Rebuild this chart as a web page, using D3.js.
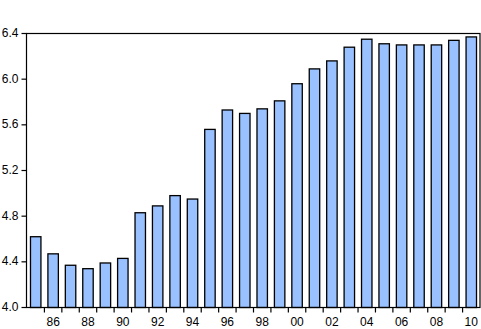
<!DOCTYPE html>
<html>
<head>
<meta charset="utf-8">
<script src="https://cdn.jsdelivr.net/npm/d3@7"></script>
<style>
  body { margin: 0; background: #fff; }
  text { font-family: "Liberation Sans", Arial, sans-serif; font-size: 12px; fill: #000; }
</style>
</head>
<body>
<div id="chart"></div>
<script>
// data
const years = d3.range(1985, 2011);
const values = [4.62, 4.47, 4.37, 4.34, 4.39, 4.43, 4.83, 4.89, 4.98, 4.95,
                5.56, 5.73, 5.70, 5.74, 5.81, 5.96, 6.09, 6.16, 6.28, 6.35,
                6.31, 6.30, 6.30, 6.30, 6.34, 6.37];
const yTicks = [4.0, 4.4, 4.8, 5.2, 5.6, 6.0, 6.4];
const xLabelYears = [1986, 1988, 1990, 1992, 1994, 1996, 1998, 2000, 2002, 2004, 2006, 2008, 2010];

const W = 481, H = 329;
const margin = {top: 33.5, right: 1, bottom: 21.5, left: 26.5};
const width = W - margin.left - margin.right,
    height = H - margin.top - margin.bottom;

let svg = d3.select("#chart")
    .append("svg")
    .attr("width", W)
    .attr("height", H)
    .append("g")
    .attr("transform", "translate(" + margin.left + "," + margin.top + ")");

const x = d3.scaleBand()
    .domain(years)
    .range([0.5, width])
    .paddingInner(0.4)
    .paddingOuter(0.2);

const y = d3.scaleLinear()
    .domain([4.0, 6.4])
    .range([height, 0]);

// bars
svg.selectAll("rect.bar")
    .data(values)
    .enter()
    .append("rect")
    .attr("class", "bar")
    .attr("x", (d, i) => x(years[i]))
    .attr("width", x.bandwidth())
    .attr("y", d => y(d))
    .attr("height", d => y(4.0) - y(d))
    .style("fill", "#99c0ff")
    .style("stroke", "#000")
    .style("stroke-width", 1.3);

// frame
svg.append("rect")
    .attr("x", 0).attr("y", 0)
    .attr("width", width).attr("height", height)
    .style("fill", "none")
    .style("stroke", "#000")
    .style("stroke-width", 1.2);

// y axis
svg.selectAll("line.ytick")
    .data(yTicks)
    .enter().append("line")
    .attr("x1", -5).attr("x2", 0)
    .attr("y1", d => y(d)).attr("y2", d => y(d))
    .style("stroke", "#000").style("stroke-width", 1.2);

svg.selectAll("text.ylab")
    .data(yTicks)
    .enter().append("text")
    .attr("x", -8)
    .attr("y", d => y(d))
    .attr("dy", "0.3em")
    .attr("text-anchor", "end")
    .text(d => d3.format(".1f")(d));

// x ticks sit between bars
const step = x.step();
svg.selectAll("line.xtick")
    .data(years.slice(1))
    .enter().append("line")
    .attr("x1", d => x(d) - step * x.paddingInner() / 2)
    .attr("x2", d => x(d) - step * x.paddingInner() / 2)
    .attr("y1", height).attr("y2", height + 5)
    .style("stroke", "#000").style("stroke-width", 1.2);

svg.selectAll("text.xlab")
    .data(xLabelYears)
    .enter().append("text")
    .attr("x", d => x(d) + x.bandwidth() / 2)
    .attr("y", height + 18.5)
    .attr("text-anchor", "middle")
    .text(d => String(d).slice(2));
</script>
</body>
</html>
